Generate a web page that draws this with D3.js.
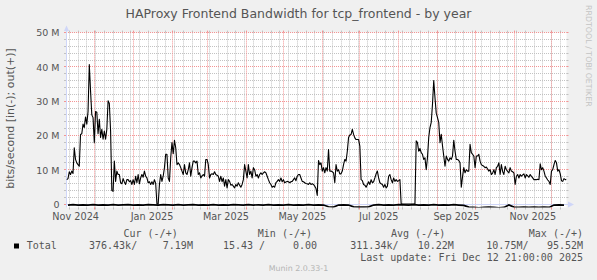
<!DOCTYPE html>
<html><head><meta charset="utf-8">
<script src="https://cdn.jsdelivr.net/npm/d3@7/dist/d3.min.js"></script>
<style>
html,body{margin:0;padding:0;background:#F0F0F0;}
svg{display:block;}
text{white-space:pre;}
</style></head>
<body><svg id="chart" width="597" height="280"></svg>
<script>
// ---------------- data ----------------
const chartTitle = "HAProxy Frontend Bandwidth for tcp_frontend - by year";
const yAxisTitle = "bits/second [in(-); out(+)]";
const startTime = "2024-11-07T21:00:00Z";
const endTime = "2025-12-12T21:00:00Z";
const yTickValues = [0, 10, 20, 30, 40, 50];            // Mbit/s
const yTickLabels = ["0", "10 M", "20 M", "30 M", "40 M", "50 M"];
const xTickMonths = ["2024-11-01", "2025-01-01", "2025-03-01", "2025-05-01", "2025-07-01", "2025-09-01", "2025-11-01"];
const xTickLabels = ["Nov 2024", "Jan 2025", "Mar 2025", "May 2025", "Jul 2025", "Sep 2025", "Nov 2025"];
// out(+) daily averages, Mbit/s, one value per day from startTime
const outMbps = [
  7.1, 7.4, 9.4, 8.6, 9.6, 8.9, 16.4, 13, 12, 11.5,
  11, 20.3, 20.5, 23.3, 22.3, 25.4, 23.3, 27, 40.7, 33,
  26, 25.2, 17.9, 27, 26.8, 20.5, 24.7, 19.4, 21.8, 18.9,
  21.3, 18.9, 21.8, 30.1, 29.3, 21.3, 3.9, 3.7, 12.5, 6.6,
  9.6, 8.6, 8.6, 6.2, 5.9, 7.4, 6.4, 5.7, 7.1, 7.1,
  6.5, 6.8, 5.7, 7.1, 5.7, 8.1, 6.2, 8.6, 5.9, 7.6,
  8.6, 7.8, 9.6, 8.1, 7.6, 6.2, 6.5, 5.7, 6.5, 5.7,
  7.1, 6.0, 0, 0, 5.7, 8.6, 6.6, 8.1, 10.6, 14.5,
  14.5, 7.6, 6.6, 13.5, 17.9, 14.7, 18.6, 16.4, 11.5, 12,
  11.5, 10.6, 9.6, 8.6, 11.5, 9.1, 8.6, 10, 12, 8.1,
  10.6, 12.5, 12.5, 12, 12.5, 8.6, 9.1, 7.6, 8.2, 8.6,
  8.1, 13, 13, 11.5, 7.6, 8.6, 8.8, 8.6, 9.4, 8.6,
  8.4, 8.1, 6.6, 8.1, 6.5, 7.6, 5.2, 7.1, 4.7, 7.1,
  6.6, 5.5, 5.7, 5.2, 4.7, 5.7, 5.2, 6.2, 5.5, 4.9,
  5.7, 7.1, 11.5, 9.6, 7.6, 11.5, 8.6, 9.6, 7.6, 10.6,
  10, 8.1, 8.6, 7.6, 8.6, 9.1, 8.6, 9.1, 9.4, 9.1,
  8.1, 7.1, 6.2, 5.7, 4.9, 5.2, 4.9, 6.2, 6.6, 7.1,
  6.6, 7.6, 6.5, 7.1, 6.2, 6.4, 6.6, 6.5, 6.2, 6.5,
  6.6, 7.1, 7.6, 6.8, 8.1, 8.6, 8.6, 7.6, 6.6, 6.5,
  6.2, 6.0, 5.9, 5.7, 6.2, 5.7, 5.9, 5.7, 5.2, 4.5,
  2.5, 12.7, 11.5, 12, 9.6, 10.6, 9.1, 10.6, 9.6, 15.9,
  9.6, 9.6, 9.4, 9.1, 6.2, 11.5, 9.6, 10, 8.8, 8.8,
  9.6, 11.5, 13, 12.5, 15.4, 19.4, 20.1, 20.3, 21.8, 20.3,
  19.3, 18.8, 18.8, 18.8, 16.9, 7.1, 6.8, 5.7, 5.5, 4.9,
  5.7, 6.5, 5.7, 7.1, 6.2, 6.5, 7.6, 8.8, 9.6, 7.6,
  6.2, 5.9, 5.7, 4.9, 5.7, 4.7, 5.2, 8.1, 8.6, 7.1,
  6.2, 7.6, 6.6, 7.1, 6.6, 6.8, 7.1, 0, 0, 0,
  0, 0, 0, 0, 0, 0, 0, 0, 0, 18.4,
  17.9, 15.4, 16.2, 15, 14.5, 13, 13.5, 10, 13.5, 19.4,
  22.3, 23.8, 29.1, 36, 31, 26.5, 25.2, 23.8, 17.9, 20.3,
  17, 14, 11, 14, 13, 12.5, 13.5, 13, 14, 18.6,
  15.4, 13, 13, 12.7, 12, 4.9, 8, 10.6, 9.1, 10,
  9.6, 9.6, 17.4, 15, 14.5, 14, 10.6, 14, 14, 14.5,
  12.5, 11.5, 11.2, 11, 10.6, 10.8, 10.2, 9.6, 10, 8.6,
  9, 10, 8.6, 10.6, 11, 12, 8.6, 11.5, 9.5, 8.6,
  11, 10, 9.5, 9.1, 10.6, 9.6, 9.4, 9.1, 5.7, 8.1,
  8.6, 7.6, 8.6, 8.1, 8.5, 8.8, 7.6, 8.6, 8.2, 7.8,
  8.6, 8.1, 7.6, 7.1, 7.1, 7.1, 7.2, 7.1, 11.7, 10,
  10.6, 9.6, 8.1, 7.6, 7, 6.6, 5.7, 9.6, 10, 11.5,
  12.7, 12, 9.6, 10, 8.8, 6.8, 6.6, 7.4, 7.1, 7.19
];
// in(-) averages, Mbit/s, one value per 4 days from startTime (plotted below zero)
const inMbps = [
  0.3, 0.2, 0.35, 0.25, 0.3, 0.2, 0.3, 0.25, 0.35, 0.2,
  0.3, 0.25, 0.2, 0.3, 0.25, 0.3, 0.2, 0.25, 0.3, 0.2,
  0.25, 0.3, 0.2, 0.3, 0.25, 0.2, 0.3, 0.25, 0.3, 0.2,
  0.3, 0.25, 0.3, 0.2, 0.25, 0.3, 0.2, 0.3, 0.25, 0.3,
  0.2, 0.3, 0.25, 0.3, 0.2, 0.3, 0.25, 0.3, 0.2, 0.3,
  0.25, 0.3, 0.8, 0.9, 0.3, 0.25, 0.3, 0.85, 0.9, 0.9,
  0.85, 0.3, 0.2, 0.3, 0.25, 0.3, 0.2, 0.25, 0.3, 0.2,
  0.3, 0.25, 0.3, 0.2, 0.3, 0.25, 0.3, 0.2, 0.3, 0.4,
  0.9, 1.0, 1.1, 1.0, 0.9, 1.0, 1.1, 1.0, 0.3, 0.9,
  1.0, 0.9, 1.0, 0.9, 1.0, 0.9, 1.0, 0.3, 0.25, 0.3
];
const legendSeries = "Total";
const legendHeaders = ["Cur (-/+)", "Min (-/+)", "Avg (-/+)", "Max (-/+)"];
const legendValues = ["376.43k/", "7.19M", "15.43 /", "0.00", "311.34k/", "10.22M", "10.75M/", "95.52M"];
const lastUpdate = "Last update: Fri Dec 12 21:00:00 2025";
const footer = "Munin 2.0.33-1";
const watermark = "RRDTOOL / TOBI OETIKER";

// ---------------- layout ----------------
const W = 597, H = 280;
const X0 = 66, X1 = 566.5, YTOP = 32.6, YZERO = 204, YBOT = 207.5;
const DAY = 864e5;
const t0 = new Date(startTime), t1 = new Date(endTime);
const x = d3.scaleUtc().domain([t0, t1]).range([65.5, 566.5]);
const y = d3.scaleLinear().domain([0, 50]).range([YZERO, YTOP]);
const snap = v => Math.floor(v) + 0.5;
const FONT = "'DejaVu Sans', sans-serif";
const MONO = "'DejaVu Sans Mono', monospace";
const TXT = "#555";

const svg = d3.select("#chart");
svg.append("rect").attr("width", W).attr("height", H).attr("fill", "#F0F0F0");
svg.append("rect").attr("x", X0).attr("y", YTOP).attr("width", X1 - X0).attr("height", YBOT - YTOP).attr("fill", "#FFFFFF");

const grid = svg.append("g");
const GRID = "#C2C2C2", MGRID = "#F39494";
function hLine(yy, color) {
  grid.append("path").attr("d", `M${X0},${yy}H${X1}`).attr("stroke", color).attr("stroke-width", 1).attr("stroke-dasharray", "1 1");
  grid.append("path").attr("d", `M${X0 - 2},${yy}H${X0}M${X1},${yy}H${X1 + 2}`).attr("stroke", color).attr("stroke-width", 1);
}
function vLine(xx, color) {
  grid.append("path").attr("d", `M${xx},${YTOP}V${YBOT}`).attr("stroke", color).attr("stroke-width", 1).attr("stroke-dasharray", "1 1");
  grid.append("path").attr("d", `M${xx},${YTOP - 2}V${YTOP}M${xx},${YBOT}V${YBOT + 2}`).attr("stroke", color).attr("stroke-width", 1);
}
d3.range(2, 50, 2).filter(v => v % 10 !== 0).forEach(v => hLine(snap(y(v)), GRID));
d3.utcMonday.range(t0, t1).forEach(d => vLine(snap(x(d)), GRID));
yTickValues.forEach(v => hLine(snap(y(v)), MGRID));
d3.utcMonth.range(t0, t1).forEach(d => vLine(snap(x(d)), MGRID));

// axes (light blue) with arrows
const AX = "#CFD6F8";
const axes = svg.append("g");
axes.append("path").attr("d", `M${X0 + 0.5},${YBOT}V28`).attr("stroke", AX);
axes.append("path").attr("d", `M${X0 - 2},31 L${X0 + 3},31 L${X0 + 0.5},25.5 Z`).attr("fill", AX);
axes.append("path").attr("d", `M${X0},${snap(YZERO)}H570`).attr("stroke", AX);
axes.append("path").attr("d", `M568,${snap(YZERO) - 3} L568,${snap(YZERO) + 3} L574,${snap(YZERO)} Z`).attr("fill", AX);

// data
svg.append("clipPath").attr("id", "clip").append("rect")
  .attr("x", X0).attr("y", YTOP - 1).attr("width", X1 - X0).attr("height", YBOT - YTOP + 1);
const plot = svg.append("g").attr("clip-path", "url(#clip)");
const outLine = d3.line().x((v, i) => x(new Date(+t0 + (i + 1) * DAY))).y(v => y(v));
const inLine = d3.line().x((v, i) => x(new Date(+t0 + (i * 4 + 2) * DAY))).y(v => y(-v));
plot.append("path").attr("d", inLine(inMbps)).attr("fill", "none").attr("stroke", "#000").attr("stroke-width", 1.7);
plot.append("path").attr("d", outLine(outMbps)).attr("fill", "none").attr("stroke", "#000").attr("stroke-width", 1.1)
  .attr("stroke-linejoin", "round");

// y tick labels
yTickValues.forEach((v, i) => {
  svg.append("text").attr("x", 59.5).attr("y", y(v) + 3.8).attr("text-anchor", "end")
    .attr("font-family", FONT).attr("font-size", 9.5).attr("fill", TXT).text(yTickLabels[i]);
});
// x tick labels (centered mid-month)
xTickMonths.forEach((m, i) => {
  const d = new Date(+new Date(m + "T00:00:00Z") + 15 * DAY);
  svg.append("text").attr("x", x(d)).attr("y", 219.5).attr("text-anchor", "middle")
    .attr("font-family", FONT).attr("font-size", 9.7).attr("fill", TXT).text(xTickLabels[i]);
});

// titles
svg.append("text").attr("x", 298.5).attr("y", 18.3).attr("text-anchor", "middle")
  .attr("font-family", FONT).attr("font-size", 12.5).attr("fill", TXT).text(chartTitle);
svg.append("text").attr("transform", "translate(13.5,118.5) rotate(-90)").attr("text-anchor", "middle")
  .attr("font-family", FONT).attr("font-size", 11).attr("fill", TXT).text(yAxisTitle);
svg.append("text").attr("transform", "translate(586,5) rotate(90)")
  .attr("font-family", FONT).attr("font-size", 7.9).attr("fill", "#C4C4C4").text(watermark);

// legend
const hdrX = [123.5, 257.8, 391, null];
legendHeaders.forEach((h, i) => {
  const t = svg.append("text").attr("y", 237).attr("font-family", MONO).attr("font-size", 10).attr("fill", TXT).text(h);
  if (hdrX[i] === null) t.attr("x", 583).attr("text-anchor", "end"); else t.attr("x", hdrX[i]);
});
svg.append("rect").attr("x", 14).attr("y", 243.5).attr("width", 5).attr("height", 5).attr("fill", "#000");
svg.append("text").attr("x", 26.7).attr("y", 249.3).attr("font-family", MONO).attr("font-size", 10).attr("fill", TXT).text(legendSeries);
const valX = [89, 162.8, 223, 293, 350.3, 417.7, 486.3, 546.9];
legendValues.forEach((s, i) => {
  svg.append("text").attr("x", valX[i]).attr("y", 249.3).attr("font-family", MONO).attr("font-size", 10).attr("fill", TXT).text(s);
});
svg.append("text").attr("x", 583).attr("y", 261).attr("text-anchor", "end")
  .attr("font-family", MONO).attr("font-size", 10).attr("fill", TXT).text(lastUpdate);
svg.append("text").attr("x", 298.5).attr("y", 271.2).attr("text-anchor", "middle")
  .attr("font-family", FONT).attr("font-size", 7.9).attr("fill", "#B4B4B4").text(footer);
</script>
</body></html>
